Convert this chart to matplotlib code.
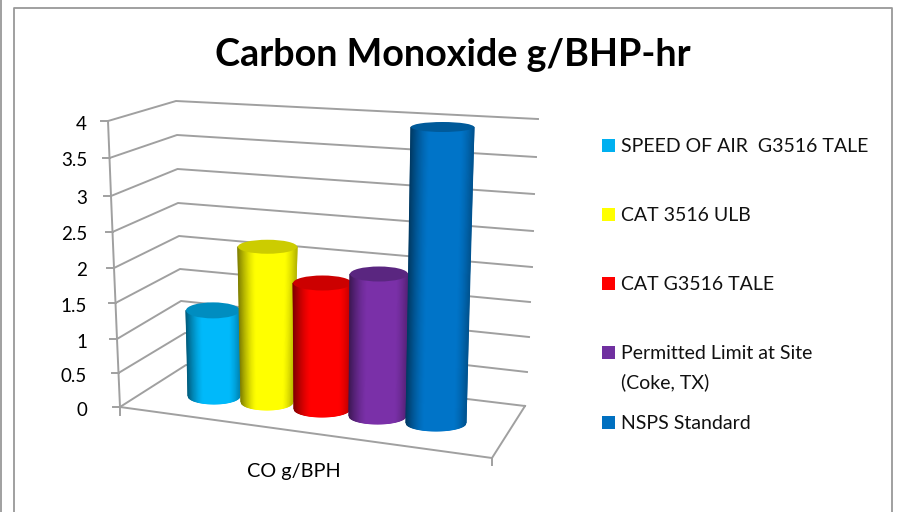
import numpy as np
import matplotlib
matplotlib.use('Agg')
import matplotlib.pyplot as plt
from matplotlib.colors import LinearSegmentedColormap, to_rgb
from matplotlib.patches import Ellipse, Rectangle

plt.rcParams['font.family'] = ['Lato', 'DejaVu Sans']

# data
title = 'Carbon Monoxide g/BHP-hr'
category = 'CO g/BPH'
series = ['SPEED OF AIR  G3516 TALE', 'CAT 3516 ULB', 'CAT G3516 TALE',
          'Permitted Limit at Site\n(Coke, TX)', 'NSPS Standard']
values = [1.25, 2.25, 1.8, 2.0, 4.0]
ticks = [0, 0.5, 1, 1.5, 2, 2.5, 3, 3.5, 4]
tick_labels = ['0', '0.5', '1', '1.5', '2', '2.5', '3', '3.5', '4']

# colours
colors = ['#00B9FA', '#FFFF00', '#FF0000', '#7A30A8', '#0074C8']
legend_colors = ['#00B0F0', '#FFFF00', '#FF0000', '#7030A0', '#0070C0']

# 3d look: where the value axis lands in pixels on each wall edge
front_y = [407, 373, 339, 303, 268, 232, 196, 158, 121]
front_x = [120, 118.5, 117, 115.5, 114, 112.5, 111, 109.5, 108]
back_y = [365, 333, 301, 269, 236, 203, 169, 135, 101]
back_x = [186, 185, 181, 180, 179, 178, 177.5, 177, 176]
right_y = [406, 372, 337, 302, 267, 231, 194, 157, 119]
right_x = [525, 527, 529, 530, 532, 533, 534, 536, 538]

# cylinders: base edges, base y, pixels per unit, lean of the edges per unit
base_left = [188, 241, 294, 349, 406]
base_right = [240, 293, 350, 406, 466]
base_y = [396, 402, 409, 416, 423]
unit_px = [68.5, 69, 70, 71, 74]
lean_left = [-1.6, -1.4, -0.5, 0.5, 1.25]
lean_right = [0, 1.8, 1, 1, 2]
cap_h = 8
top_cap_h = [8, 7, 7.5, 7.5, 5]

fig = plt.figure(figsize=(9, 5.12), dpi=100)
ax = fig.add_axes([0, 0, 1, 1])
ax.axis('off')

line_c = '#A0A0A0'
# frame
ax.plot([14, 14, 892, 892], [512, 8, 8, 512], color='#999999', lw=1.3)
ax.plot([1, 1], [0, 512], color='#999999', lw=1.3)

ax.text(453, 55, title, fontsize=27.2, fontweight='bold', ha='center', va='center', color='black')

# walls and floor
for i in range(len(ticks)):
    ax.plot([front_x[i], back_x[i], right_x[i]], [front_y[i], back_y[i], right_y[i]], color=line_c, lw=1.4)
    ax.plot([front_x[i] - 7, front_x[i]], [front_y[i], front_y[i]], color=line_c, lw=1.4)
    ax.text(87, front_y[i] + 3, tick_labels[i], fontsize=13.5, ha='right', va='center', color='black')
ax.plot(front_x, front_y, color=line_c, lw=1.4)
ax.plot([120, 492, 525], [407, 458, 406], color=line_c, lw=1.4)
ax.plot([120, 120], [407, 415], color=line_c, lw=1.4)
ax.plot([492, 492], [458, 465], color=line_c, lw=1.4)
ax.text(294, 471, category, fontsize=14.3, ha='center', va='center', color='black')

ts = np.linspace(-1, 1, 61)
# dark near both edges, flat in the middle
u = np.abs(ts - 0.1) / 1.1
shade = 1 - 0.5 * np.clip((u - 0.45) / 0.55, 0, 1) ** 1.4

for i in range(len(values)):
    v = values[i]
    top_y = base_y[i] - v * unit_px[i]
    tl = base_left[i] + lean_left[i] * v
    tr = base_right[i] + lean_right[i] * v
    bc, br = (base_left[i] + base_right[i]) / 2, (base_right[i] - base_left[i]) / 2
    tc, trad = (tl + tr) / 2, (tr - tl) / 2
    X = np.vstack([tc + ts * trad, bc + ts * br])
    Y = np.vstack([np.full_like(ts, top_y), base_y[i] + cap_h * np.sqrt(1 - ts * ts)])
    C = np.vstack([shade, shade])
    cmap = LinearSegmentedColormap.from_list('c%d' % i, ['black', colors[i]])
    ax.pcolormesh(X, Y, C, shading='gouraud', cmap=cmap, vmin=0, vmax=1, zorder=3 + i)
    cap = np.array(to_rgb(legend_colors[i])) * 0.8
    ax.add_patch(Ellipse((tc, top_y), 2 * trad, 2 * top_cap_h[i], fc=tuple(cap), ec='none', zorder=3 + i))

# legend
legend_y = [145, 214, 283, 352, 422]
for i in range(len(series)):
    ax.add_patch(Rectangle((602, legend_y[i] - 6.5), 13, 13, fc=legend_colors[i], ec='none'))
    ax.text(621, legend_y[i] - 7, series[i], fontsize=14, va='top', ha='left', color='#111111', linespacing=1.74)

ax.set_xlim(0, 900)
ax.set_ylim(512, 0)
fig.savefig('out.png', dpi=100)
